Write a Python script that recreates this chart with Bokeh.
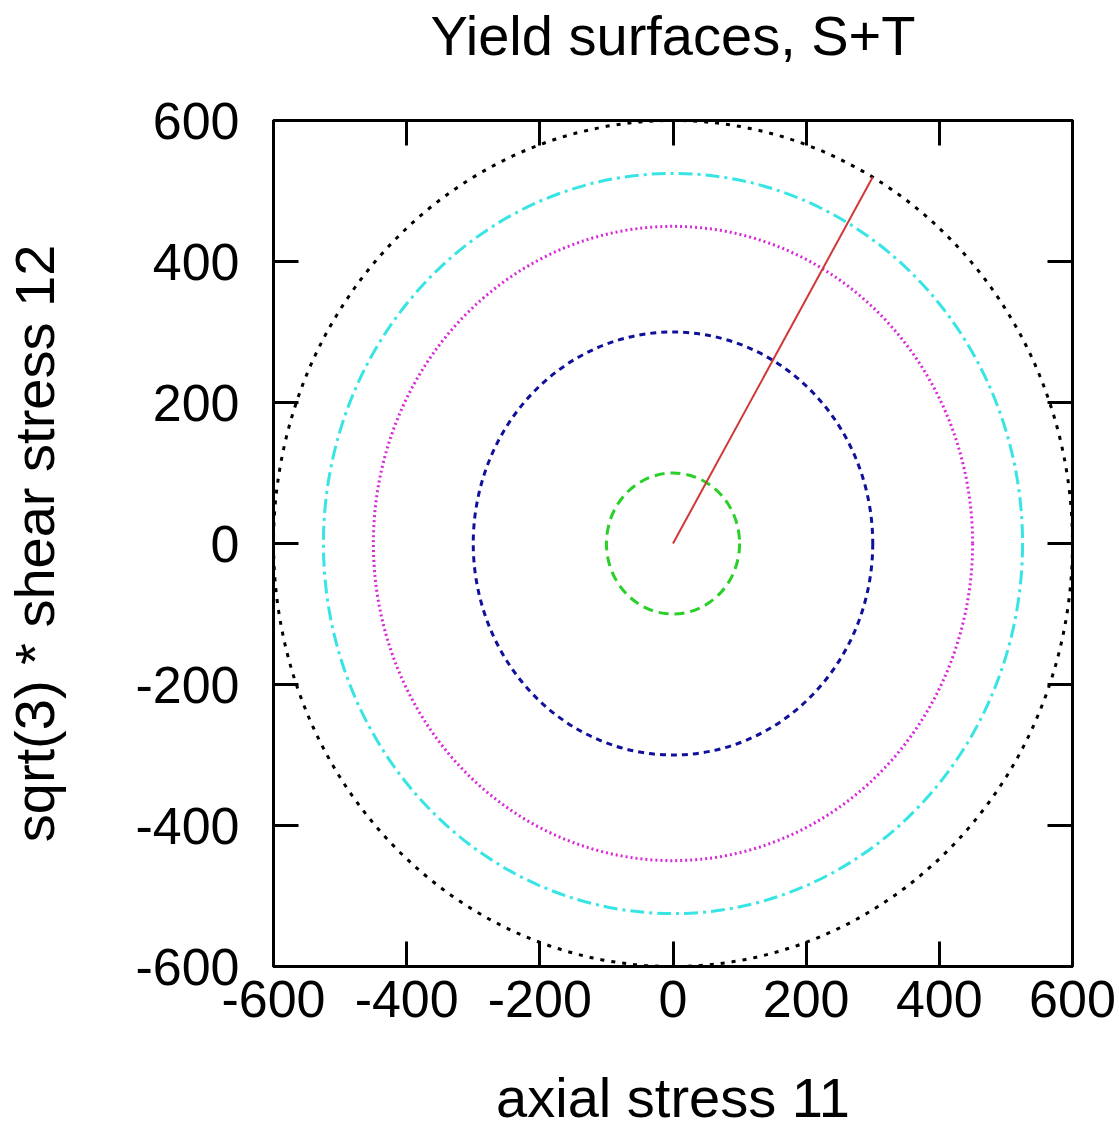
from bokeh.plotting import figure
from bokeh.models import LinearAxis, FixedTicker, Range1d
from bokeh.embed import file_html
from bokeh.resources import INLINE

# Data: yield surface radii and loading path
radii = [100, 300, 450, 525, 600]
colors = ["#28d028", "#10109a", "#d828d8", "#38e4e4", "#000000"]
dashes = ["10 6", "6 5", "2 3", "14 5 3 5", "4 7"]
path_x = [0, 300]
path_y = [0, 520]
ticks = [-600, -400, -200, 0, 200, 400, 600]
tick_labels = {t: str(t) for t in ticks}
title_text = "Yield surfaces, S+T"

FONT = "Liberation Sans"

p = figure(width=1119, height=1133, output_backend="svg", toolbar_location=None,
           x_range=Range1d(-600, 600), y_range=Range1d(-600, 600),
           min_border_left=273, min_border_right=47, min_border_top=120,
           min_border_bottom=167, x_axis_label="axial stress 11",
           y_axis_label="sqrt(3) * shear stress 12")
p.background_fill_color = "white"
p.border_fill_color = "white"
p.grid.visible = False
p.outline_line_color = "black"
p.outline_line_width = 3

for r, c, d in zip(radii, colors, dashes):
    p.ellipse(x=0, y=0, width=2 * r, height=2 * r, fill_color=None,
              line_color=c, line_dash=d, line_width=3)

p.line(path_x, path_y, line_color="#d03838", line_width=2)

for ax in [p.xaxis[0], p.yaxis[0]]:
    ax.ticker = FixedTicker(ticks=ticks)
    ax.major_label_overrides = tick_labels
    ax.major_tick_in = 25
    ax.major_tick_out = 0
    ax.minor_tick_line_color = None
    ax.major_tick_line_width = 3
    ax.major_tick_line_color = "black"
    ax.axis_line_width = 3
    ax.axis_line_color = "black"
    ax.major_label_text_font = FONT
    ax.major_label_text_font_size = "52px"
    ax.major_label_text_color = "black"
    ax.axis_label_text_font = FONT
    ax.axis_label_text_font_size = "56px"
    ax.axis_label_text_font_style = "normal"
    ax.axis_label_text_color = "black"

p.xaxis[0].major_label_standoff = 14
p.xaxis[0].axis_label_standoff = 46
p.yaxis[0].major_label_standoff = 34
p.yaxis[0].axis_label_standoff = 66

for side in ["right", "above"]:
    ax = LinearAxis(ticker=FixedTicker(ticks=ticks), major_label_text_font_size="0px",
                    major_label_text_color=None,
                    major_tick_in=25, major_tick_out=0, minor_tick_line_color=None,
                    major_tick_line_width=3, major_tick_line_color="black",
                    axis_line_width=3, axis_line_color="black", major_label_standoff=0)
    if side == "above":
        ax.axis_label = title_text
        ax.axis_label_text_font = FONT
        ax.axis_label_text_font_size = "56px"
        ax.axis_label_text_font_style = "normal"
        ax.axis_label_text_color = "black"
        ax.axis_label_standoff = 54
    p.add_layout(ax, side)

open("out.html", "w").write(file_html(p, INLINE))
